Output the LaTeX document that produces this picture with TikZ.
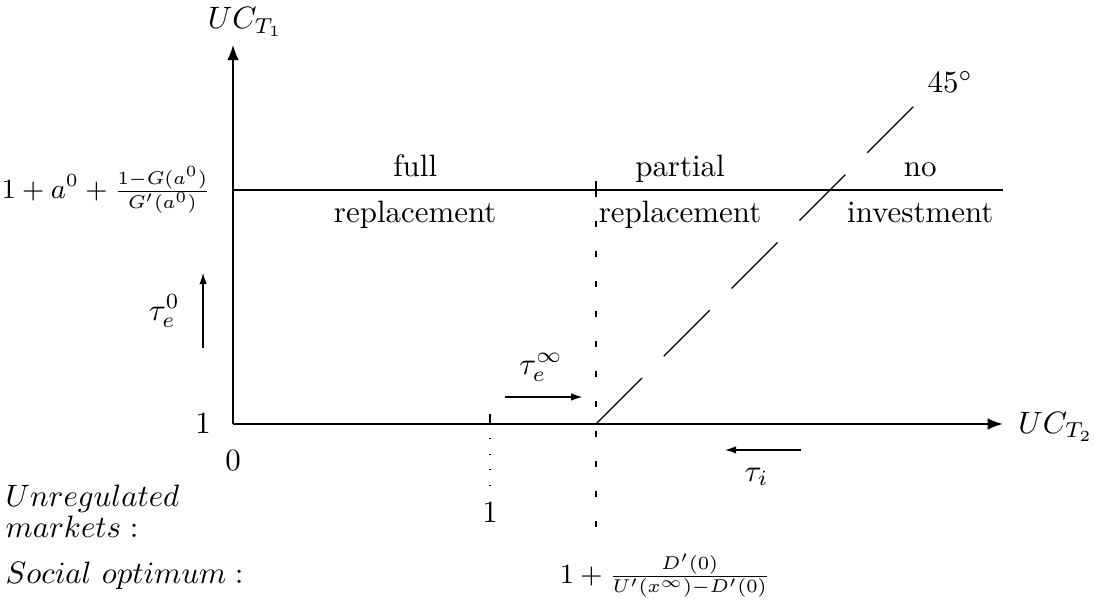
\documentclass[tikz,border=0pt]{standalone}
\usepackage{amsmath,amssymb}
\usepackage{tikz}
\usetikzlibrary{arrows.meta,positioning}

\begin{document}
\begin{tikzpicture}[
    axisline/.style={line width=0.7pt, -{Latex[length=5pt,width=3.8pt]}},
    taxarrow/.style={thin, -{Latex[length=3.6pt,width=2.4pt]}},
    every node/.style={font=\normalsize}]
    \useasboundingbox (-2.648,-2.023) rectangle (9.784,4.818);

    % Axes
    \coordinate (O) at (0,0);
    \coordinate (Ytop) at (0,4.31);
    \coordinate (Xend) at (8.75,0);
    \draw[axisline] (O) -- (Ytop);
    \draw[axisline] (O) -- (Xend);
    \node (ucone) at (0.14,4.57) {$UC_{T_1}$};
    \node (uctwo) at (9.35,-0.03) {$UC_{T_2}$};
    \node (zero) at (0,-0.41) {$0$};
    \node (one) at (-0.34,0) {$1$};

    % Threshold level for a^0
    \coordinate (Hleft) at (0,2.66);
    \coordinate (Hright) at (8.75,2.66);
    \draw[thin] (Hleft) -- (Hright);
    \node[anchor=east, font=\small] (thresh) at (-0.13,2.66) {$1+a^0+\frac{1-G(a^0)}{G'(a^0)}$};

    % Regions
    \node[anchor=base] (full) at (2.07,2.807) {full};
    \node[anchor=base] (fullrep) at (2.07,2.284) {replacement};
    \node[anchor=base] (partial) at (5.08,2.807) {partial};
    \node[anchor=base] (partrep) at (5.08,2.284) {replacement};
    \node[anchor=base] (no) at (7.81,2.807) {no};
    \node[anchor=base] (noinv) at (7.81,2.284) {investment};

    % Social optimum threshold
    \coordinate (Sx) at (4.125,0);
    \coordinate (Stop) at (4.125,2.58);
    \draw[thin] (4.125,2.76) -- (Stop);
    \draw[thin, dash pattern=on 2pt off 7.7pt, dash phase=2pt] (Stop) -- (4.125,-1.2);

    % Unregulated threshold
    \coordinate (Ux) at (2.92,0);
    \draw[thin] (2.92,0.114) -- (Ux);
    \draw[thin, dash pattern=on 0.4pt off 4.6pt, dash phase=0.4pt] (Ux) -- (2.92,-0.705);
    \node (unone) at (2.92,-1.01) {$1$};
    \node[font=\small] (socone) at (4.91,-1.72) {$1+\frac{D'(0)}{U'(x^\infty)-D'(0)}$};

    % 45 degree line
    \draw[thin, dash pattern=on 21pt off 10pt] (Sx) -- ++(3.615,3.615);
    \node (deg) at (8.15,3.886) {$45^\circ$};

    % Tax arrows
    \draw[taxarrow] (-0.34,0.864) -- (-0.34,1.716);
    \node (taue) at (-0.78,1.28) {$\tau_e^0$};
    \draw[taxarrow] (3.09,0.307) -- (3.97,0.307);
    \node (tauinf) at (3.5,0.64) {$\tau_e^\infty$};
    \draw[taxarrow] (6.455,-0.295) -- (5.59,-0.295);
    \node (taui) at (5.95,-0.60) {$\tau_i$};

    % Row labels
    \node[anchor=base west, inner sep=0] (unreg) at (-2.59,-0.943) {$Unregulated$};
    \node[anchor=base west, inner sep=0] (markets) at (-2.59,-1.295) {$markets:$};
    \node[anchor=base west, inner sep=0] (social) at (-2.59,-1.807) {$Social\ optimum:$};
\end{tikzpicture}
\end{document}
